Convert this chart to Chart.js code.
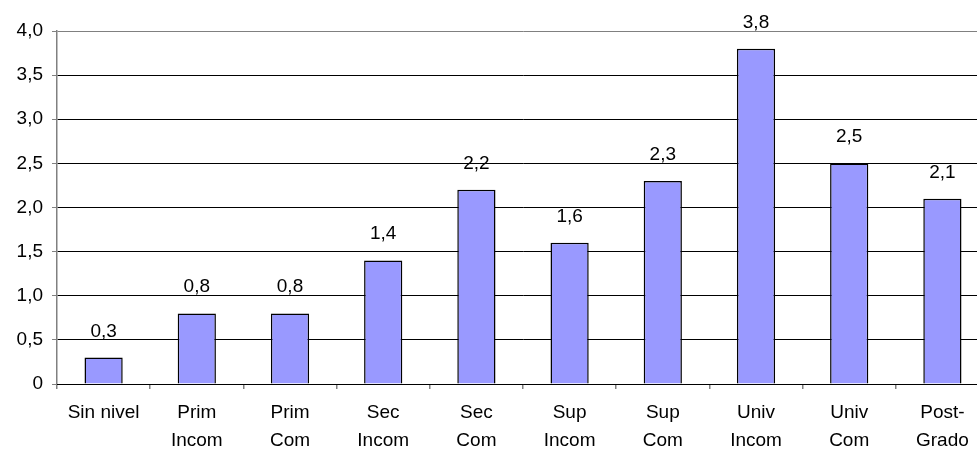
<!DOCTYPE html>
<html>
<head>
<meta charset="utf-8">
<script src="https://cdn.jsdelivr.net/npm/chart.js@4/dist/chart.umd.min.js"></script>
<style>
  html, body { margin: 0; padding: 0; background: #fff; overflow: hidden; }
  #wrap { width: 990px; height: 452px; }
</style>
</head>
<body>
<div id="wrap"><canvas id="c" width="990" height="452"></canvas></div>
<script>
// Nivel educativo
const categories = [
  'Sin nivel', ['Prim', 'Incom'], ['Prim', 'Com'], ['Sec', 'Incom'], ['Sec', 'Com'],
  ['Sup', 'Incom'], ['Sup', 'Com'], ['Univ', 'Incom'], ['Univ', 'Com'], ['Post-', 'Grado']
];
const values = [0.3, 0.8, 0.8, 1.4, 2.2, 1.6, 2.3, 3.8, 2.5, 2.1];
const yTicks = [0, 0.5, 1.0, 1.5, 2.0, 2.5, 3.0, 3.5, 4.0];

const fmt = v => v === 0 ? '0' : v.toFixed(1).replace('.', ',');
const FONT = 'Liberation Sans, Arial, sans-serif';
const FSIZE = 19;

// Value labels above each bar
const valueLabels = {
  id: 'valueLabels',
  afterDatasetsDraw(chart) {
    const ctx = chart.ctx;
    const meta = chart.getDatasetMeta(0);
    ctx.save();
    ctx.font = FSIZE + 'px ' + FONT;
    ctx.fillStyle = '#000';
    ctx.textAlign = 'center';
    ctx.textBaseline = 'alphabetic';
    meta.data.forEach((bar, i) => {
      ctx.fillText(fmt(values[i]), bar.x, bar.y - 21);
    });
    ctx.restore();
  }
};

new Chart(document.getElementById('c'), {
  type: 'bar',
  data: {
    labels: categories,
    datasets: [{
      data: values,
      backgroundColor: '#9999FF',
      borderColor: '#000',
      borderWidth: 1.5,
      barPercentage: 0.41,
      categoryPercentage: 1.0
    }]
  },
  options: {
    responsive: false,
    animation: false,
    devicePixelRatio: 1,
    layout: { padding: { top: 31, right: 1, left: 0, bottom: 0 } },
    plugins: { legend: { display: false }, tooltip: { enabled: false } },
    scales: {
      y: {
        min: 0, max: 4,
        afterFit(scale) { scale.width = 57; },
        afterBuildTicks(scale) { scale.ticks = yTicks.map(v => ({ value: v })); },
        ticks: {
          color: '#000',
          font: { family: FONT, size: FSIZE },
          padding: 9,
          callback: v => fmt(v)
        },
        grid: {
          color: ctx => (ctx.tick && ctx.tick.value === 4) ? '#808080' : '#000',
          tickColor: '#808080',
          tickLength: 5,
          lineWidth: 1
        },
        border: { color: '#808080', width: 1.5 }
      },
      x: {
        afterFit(scale) { scale.height = 68; },
        ticks: {
          color: '#000',
          font: { family: FONT, size: FSIZE, lineHeight: '28px' },
          padding: 10,
          maxRotation: 0,
          autoSkip: false
        },
        grid: {
          offset: true,
          drawOnChartArea: false,
          drawTicks: true,
          tickLength: 5,
          tickColor: '#808080',
          lineWidth: 1.5
        },
        border: { color: '#000', width: 1 }
      }
    }
  },
  plugins: [valueLabels]
});
</script>
</body>
</html>
